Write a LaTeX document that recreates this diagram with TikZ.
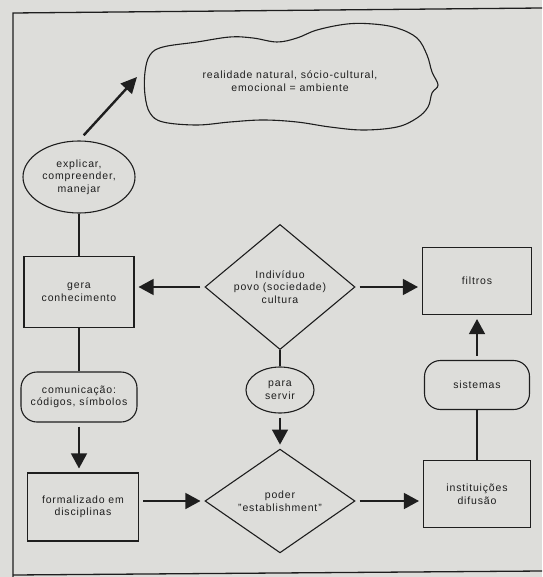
\documentclass[tikz,border=0pt]{standalone}
\usepackage{fontspec}
\setmainfont{Liberation Sans}[LetterSpace=8]
\usetikzlibrary{shapes.geometric,arrows.meta}

\definecolor{paper}{RGB}{221,221,218}
\definecolor{ink}{RGB}{30,30,30}

\begin{document}
\begin{tikzpicture}[x=1pt,y=-1pt,
	every node/.style={font=\fontsize{10.5}{12.5}\selectfont, text=ink, align=center, inner sep=0pt},
	caixa/.style={draw=ink, line width=1.1pt, rectangle},
	oval/.style={draw=ink, line width=1.1pt, ellipse},
	losango/.style={draw=ink, line width=1.1pt, diamond},
	capsula/.style={draw=ink, line width=1.1pt, rectangle, rounded corners=16pt},
	liga/.style={draw=ink, line width=1.4pt},
	seta/.style={liga, -{Triangle[length=15pt,width=16pt]}, shorten >=4pt, shorten <=4pt}]

	\fill[paper] (0,0) rectangle (542,577);
	\useasboundingbox (0,0) rectangle (542,577);

	% moldura
	\draw[line width=1.3pt, ink] (13,577) -- (13,13) -- (542,8);
	\draw[line width=1.3pt, ink] (13,575) -- (542,571);

	% nuvem
	\draw[line width=1.1pt, ink] plot[smooth cycle, tension=0.6] coordinates {
		(150,55) (163,47) (197,42) (230,37) (253,38) (277,42) (297,38) (317,30)
		(347,24) (373,24) (397,28) (417,38) (427,55) (432,72) (438,85) (432,93)
		(428,107) (417,118) (397,127) (363,130) (330,127) (297,122) (263,120)
		(230,122) (197,125) (163,122) (150,113) (145,95) (145,72)};
	\node (realidade) at (290,81) {realidade natural, sócio-cultural,\\ emocional = ambiente};
	\coordinate (ponta) at (137,77);

	% coluna esquerda
	\node[oval, minimum width=112pt, minimum height=72pt] (explicar) at (79,177) {explicar,\\ compreender,\\ manejar};
	\node[caixa, minimum width=110pt, minimum height=71pt] (gera) at (79,292) {gera\\ conhecimento};
	\node[capsula, minimum width=116pt, minimum height=50pt] (comunic) at (79,397) {comunicação:\\ códigos, símbolos};
	\node[caixa, minimum width=111pt, minimum height=68pt] (formal) at (83,507) {formalizado em\\ disciplinas};

	% coluna do meio
	\node[losango, minimum width=150pt, minimum height=100pt] (individuo) at (280,287) {Indivíduo\\ povo (sociedade)\\ cultura};
	\node[oval, minimum width=68pt, minimum height=46pt] (servir) at (280,390) {para\\ servir};
	\node[losango, minimum width=150pt, minimum height=97pt] (poder) at (280,501) {poder\\ "establishment"};

	% coluna direita
	\node[caixa, minimum width=109pt, minimum height=67pt] (filtros) at (477,281) {filtros};
	\node[capsula, minimum width=105pt, minimum height=49pt] (sistemas) at (477,385) {sistemas};
	\node[caixa, minimum width=107pt, minimum height=67pt] (instit) at (477,494) {instituições\\ difusão};

	% ligacoes
	\draw[seta, line width=2.4pt, -{Triangle[length=16pt,width=15pt]}, shorten <=7pt, shorten >=0pt] (explicar.north) -- (ponta);
	\draw[liga] (explicar) -- (gera);
	\draw[seta] (individuo.west) -- (gera.east |- individuo.west);
	\draw[seta] (individuo.east) -- (filtros.west |- individuo.east);
	\draw[liga] (gera) -- (comunic);
	\draw[seta] (comunic) -- (comunic |- formal.north);
	\draw[seta] (formal.east |- poder.west) -- (poder.west);
	\draw[liga] (individuo) -- (servir);
	\draw[seta] (servir) -- (poder);
	\draw[seta] (poder.east) -- (instit.west |- poder.east);
	\draw[liga] (instit) -- (sistemas);
	\draw[seta] (sistemas) -- (filtros);

\end{tikzpicture}
\end{document}
